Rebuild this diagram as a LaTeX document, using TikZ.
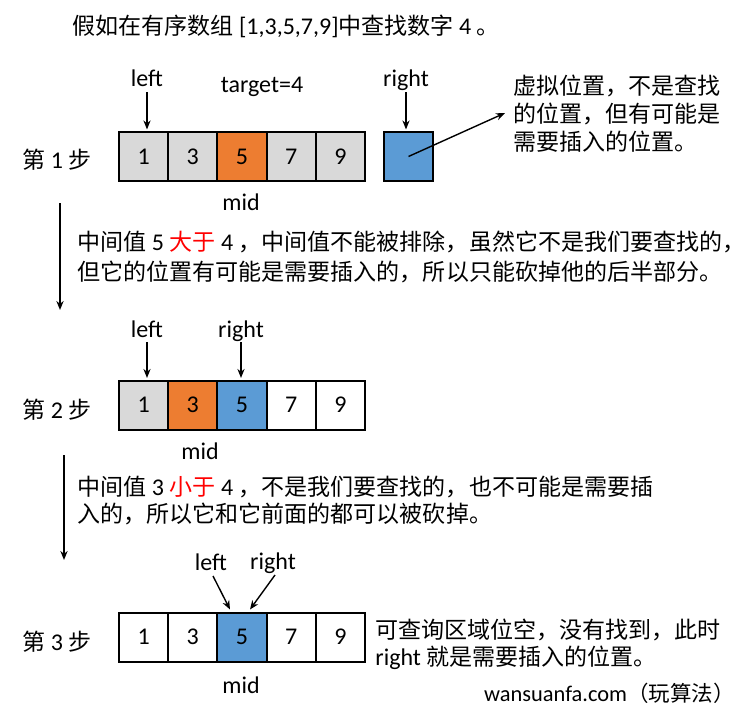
\documentclass[tikz,border=0pt]{standalone}
\usepackage{fontspec}
\setmainfont{Carlito}
\newfontfamily\zhfont[Scale=0.96]{Noto Sans CJK SC}
\newcommand\CN[1]{{\zhfont #1}}
\usetikzlibrary{arrows.meta}
\definecolor{cellgray}{HTML}{D9D9D9}
\definecolor{cellorange}{HTML}{ED7D31}
\definecolor{cellblue}{HTML}{5B9BD5}
\begin{document}
\begin{tikzpicture}[x=0.5pt,y=-0.5pt,
 font=\fontsize{12}{14}\selectfont,
 cell/.style={draw, line width=1pt, minimum width=24.6pt, minimum height=24.5pt, inner sep=0pt},
 lbl/.style={inner sep=0pt, anchor=base},
 txt/.style={inner sep=0pt, anchor=base west},
 arr/.style={-{Stealth[length=4.5pt,width=3.6pt]}, line width=0.7pt},
]
\useasboundingbox (0,0) rectangle (752,712);
% title
\node[txt] (title) at (72,34) {\CN{假如在有序数组} [1,3,5,7,9]\CN{中查找数字} 4 \CN{。}};
% ---------- step 1
\node[txt] (s1) at (22,169) {\CN{第} 1 \CN{步}};
\node[cell, fill=cellgray]   (a1) at (143.6,156.5) {1};
\node[cell, fill=cellgray]   (a2) at (192.8,156.5) {3};
\node[cell, fill=cellorange] (a3) at (242.0,156.5) {5};
\node[cell, fill=cellgray]   (a4) at (291.2,156.5) {7};
\node[cell, fill=cellgray]   (a5) at (340.4,156.5) {9};
\node[cell, fill=cellblue]   (rb) at (408.5,156.5) {};
\node[lbl] (l1) at (147,87) {left};
\node[lbl] (t1) at (262,92) {target=4};
\node[lbl] (r1) at (406,87) {right};
\node[lbl] (m1) at (241,211) {mid};
\draw[arr] ([yshift=-2.5pt]l1.base) -- ([yshift=0.8pt]l1.base |- a1.north);
\draw[arr] ([yshift=-2.5pt]r1.base) -- ([yshift=0.8pt]r1.base |- rb.north);
\node[txt] (n1) at (513,95) {\CN{虚拟位置，不是查找}};
\node[txt] (n2) at (513,123) {\CN{的位置，但有可能是}};
\node[txt] (n3) at (513,150) {\CN{需要插入的位置。}};
\coordinate (nt) at (505,113);
\draw[arr] (rb.center) -- (nt);
% transition 1
\coordinate (v1a) at (60,203);
\coordinate (v1b) at (60,310);
\draw[arr] (v1a) -- (v1b);
\node[txt] (e1) at (77,250) {\CN{中间值} 5 \textcolor{red}{\CN{大于}} 4 \CN{，中间值不能被排除，虽然它不是我们要查找的，}};
\node[txt] (e2) at (77,280) {\CN{但它的位置有可能是需要插入的，所以只能砍掉他的后半部分。}};
% ---------- step 2
\node[txt] (s2) at (22,418) {\CN{第} 2 \CN{步}};
\node[cell, fill=cellgray]   (b1) at (143.6,405) {1};
\node[cell, fill=cellorange] (b2) at (192.8,405) {3};
\node[cell, fill=cellblue]   (b3) at (242.0,405) {5};
\node[cell, fill=white]      (b4) at (291.2,405) {7};
\node[cell, fill=white]      (b5) at (340.4,405) {9};
\node[lbl] (l2) at (147,337) {left};
\node[lbl] (r2) at (241,337) {right};
\node[lbl] (m2) at (200,459) {mid};
\draw[arr] ([yshift=-2.5pt]l2.base) -- ([yshift=0.8pt]l2.base |- b1.north);
\draw[arr] ([yshift=-2.5pt]r2.base) -- ([yshift=0.8pt]r2.base |- b3.north);
% transition 2
\coordinate (v2a) at (64,455);
\coordinate (v2b) at (64,560);
\draw[arr] (v2a) -- (v2b);
\node[txt] (f1) at (77,495) {\CN{中间值} 3 \textcolor{red}{\CN{小于}} 4 \CN{，不是我们要查找的，也不可能是需要插}};
\node[txt] (f2) at (77,523) {\CN{入的，所以它和它前面的都可以被砍掉。}};
% ---------- step 3
\node[txt] (s3) at (22,650) {\CN{第} 3 \CN{步}};
\node[cell, fill=white]    (c1) at (143.6,637) {1};
\node[cell, fill=white]    (c2) at (192.8,637) {3};
\node[cell, fill=cellblue] (c3) at (242.0,637) {5};
\node[cell, fill=white]    (c4) at (291.2,637) {7};
\node[cell, fill=white]    (c5) at (340.4,637) {9};
\node[lbl] (l3) at (211,570) {left};
\node[lbl] (r3) at (273,569) {right};
\node[lbl] (m3) at (241,693) {mid};
\draw[arr] ([xshift=1pt,yshift=-3pt]l3.base) -- ([xshift=-6pt,yshift=1pt]c3.north);
\draw[arr] ([xshift=1pt,yshift=-3pt]r3.base) -- ([xshift=4pt,yshift=1pt]c3.north);
\node[txt] (g1) at (375,639) {\CN{可查询区域位空，没有找到，此时}};
\node[txt] (g2) at (375,665) {right \CN{就是需要插入的位置。}};
\node[inner sep=0pt, anchor=base east, font=\fontsize{11.2}{13}\selectfont] (wm) at (735,701) {wansuanfa.com\CN{（玩算法）}};
\end{tikzpicture}
\end{document}
